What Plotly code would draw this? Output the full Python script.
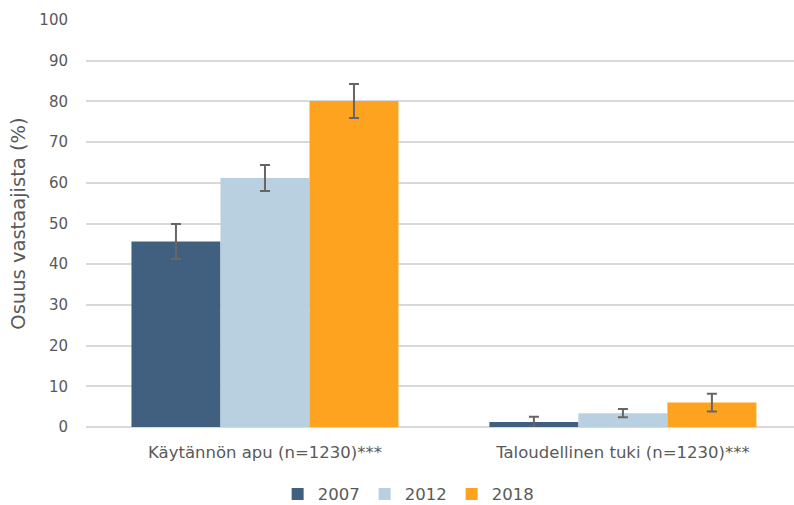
import plotly.graph_objects as go

# Survey shares (%) by form of help and survey year, with error margins
categories = ["Käytännön apu (n=1230)***", "Taloudellinen tuki (n=1230)***"]
years = ["2007", "2012", "2018"]
values = {
    "2007": [45.6, 1.2],
    "2012": [61.2, 3.4],
    "2018": [80.1, 6.0],
}
errors = {
    "2007": [4.3, 1.3],
    "2012": [3.2, 1.0],
    "2018": [4.2, 2.2],
}
colors = {"2007": "#41607F", "2012": "#B8D0E0", "2018": "#FDA31F"}
y_ticks = list(range(0, 101, 10))

text_color = "#595959"
font_family = "'DejaVu Sans', sans-serif"

fig = go.Figure()
for yr in years:
    fig.add_trace(go.Bar(
        name=yr,
        x=categories,
        y=values[yr],
        marker=dict(color=colors[yr], line=dict(width=0)),
        error_y=dict(type="data", array=errors[yr], visible=True,
                     color="#666666", thickness=2, width=5),
        hoverinfo="skip",
    ))

fig.update_layout(
    width=794,
    height=505,
    barmode="group",
    bargap=0.254,
    bargroupgap=0,
    plot_bgcolor="white",
    paper_bgcolor="white",
    margin=dict(l=86, r=0, t=20, b=78, autoexpand=False),
    font=dict(family=font_family, color=text_color, size=15),
    showlegend=True,
    legend=dict(
        orientation="h",
        x=0.455, xanchor="center",
        y=-0.165, yanchor="middle",
        font=dict(size=16.5, color=text_color),
        itemwidth=30,
        traceorder="normal",
    ),
    xaxis=dict(
        range=[-0.5, 1.478],
        showgrid=False,
        showline=False,
        zeroline=False,
        ticks="outside",
        ticklen=10,
        tickcolor="rgba(0,0,0,0)",
        tickfont=dict(size=16.5, color=text_color),
    ),
    yaxis=dict(
        range=[0, 100],
        tickvals=y_ticks,
        showgrid=True,
        gridcolor="#D9D9D9",
        gridwidth=1.5,
        zeroline=True,
        zerolinecolor="#D9D9D9",
        zerolinewidth=1.5,
        showline=False,
        ticks="outside",
        ticklen=14,
        tickcolor="rgba(0,0,0,0)",
        tickfont=dict(size=15, color=text_color),
        title=dict(text="Osuus vastaajista (%)",
                   font=dict(size=19.5, color=text_color), standoff=8),
    ),
)

fig.write_html("out.html")
